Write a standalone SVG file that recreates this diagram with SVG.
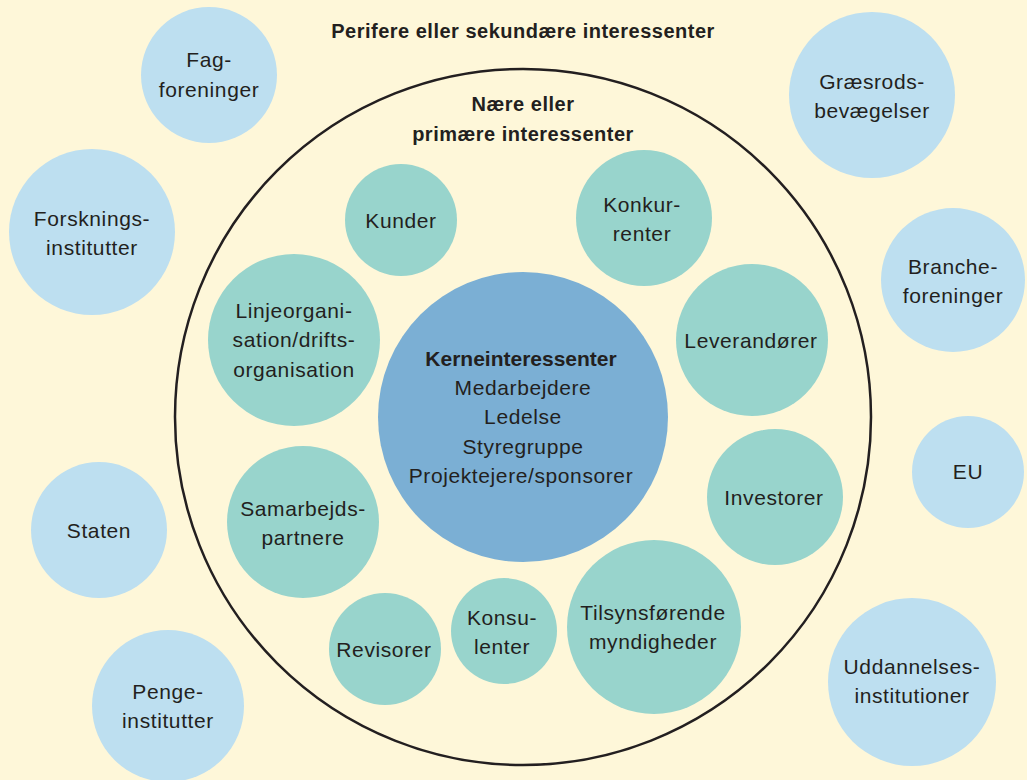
<svg xmlns="http://www.w3.org/2000/svg" width="1027" height="780" viewBox="0 0 1027 780">
<style>
text{font-family:"Liberation Sans",Arial,sans-serif;font-size:21px;letter-spacing:0.6px;fill:#231F20;text-anchor:middle}
.b{font-weight:bold}
.t{font-size:20px;letter-spacing:0.5px}
.k{letter-spacing:0}
.outer{fill:#BDDFF0}
.inner{fill:#98D4CC}
.core{fill:#7BAFD4}
</style>
<rect x="0" y="0" width="1027" height="780" fill="#FEF7D9"/>
<g id="title"><text class="b t" x="523" y="38">Perifere eller sekundære interessenter</text></g>
<g id="primary-ring">
<circle cx="523" cy="417" r="348" fill="none" stroke="#231F20" stroke-width="2.5"/>
<text class="b t" x="523" y="111">Nære eller</text>
<text class="b t" x="523" y="141">primære interessenter</text>
</g>
<g id="fagforeninger"><circle class="outer" cx="209" cy="75" r="68"/><text x="209" y="67">Fag-</text><text x="209" y="97">foreninger</text></g>
<g id="graesrods"><circle class="outer" cx="872" cy="95" r="83"/><text x="872" y="89">Græsrods-</text><text x="872" y="118">bevægelser</text></g>
<g id="forsknings"><circle class="outer" cx="92" cy="232" r="83"/><text x="92" y="226">Forsknings-</text><text x="92" y="255">institutter</text></g>
<g id="branche"><circle class="outer" cx="953" cy="280" r="72"/><text x="953" y="274">Branche-</text><text x="953" y="303">foreninger</text></g>
<g id="eu"><circle class="outer" cx="968" cy="472" r="56"/><text x="968" y="479">EU</text></g>
<g id="staten"><circle class="outer" cx="99" cy="530" r="68"/><text x="99" y="538">Staten</text></g>
<g id="penge"><circle class="outer" cx="168" cy="706" r="76"/><text x="168" y="699">Penge-</text><text x="168" y="728">institutter</text></g>
<g id="uddannelses"><circle class="outer" cx="912" cy="682" r="84"/><text x="912" y="674">Uddannelses-</text><text x="912" y="703">institutioner</text></g>
<g id="kunder"><circle class="inner" cx="401" cy="220" r="56"/><text x="401" y="228">Kunder</text></g>
<g id="konkurrenter"><circle class="inner" cx="644" cy="218" r="68"/><text x="642" y="212">Konkur-</text><text x="642" y="241">renter</text></g>
<g id="linjeorganisation"><circle class="inner" cx="294" cy="340" r="86"/><text x="294" y="318">Linjeorgani-</text><text x="294" y="347">sation/drifts-</text><text x="294" y="377">organisation</text></g>
<g id="leverandoerer"><circle class="inner" cx="752" cy="340" r="76"/><text x="751" y="348">Leverandører</text></g>
<g id="investorer"><circle class="inner" cx="775" cy="497" r="68"/><text x="774" y="505">Investorer</text></g>
<g id="samarbejdspartnere"><circle class="inner" cx="303" cy="522" r="76"/><text x="303" y="516">Samarbejds-</text><text x="303" y="545">partnere</text></g>
<g id="revisorer"><circle class="inner" cx="385" cy="649" r="56"/><text x="384" y="657">Revisorer</text></g>
<g id="konsulenter"><circle class="inner" cx="504" cy="631" r="53"/><text x="502" y="625">Konsu-</text><text x="502" y="654">lenter</text></g>
<g id="tilsynsfoerende"><circle class="inner" cx="654" cy="627" r="87"/><text x="653" y="620">Tilsynsførende</text><text x="653" y="649">myndigheder</text></g>
<g id="kerneinteressenter"><circle class="core" cx="523" cy="417" r="145"/>
<text class="b k" x="521" y="366">Kerneinteressenter</text>
<text x="523" y="395">Medarbejdere</text>
<text x="523" y="424">Ledelse</text>
<text x="523" y="454">Styregruppe</text>
<text x="521" y="483">Projektejere/sponsorer</text>
</g>
<g id="connectors"></g>
</svg>
